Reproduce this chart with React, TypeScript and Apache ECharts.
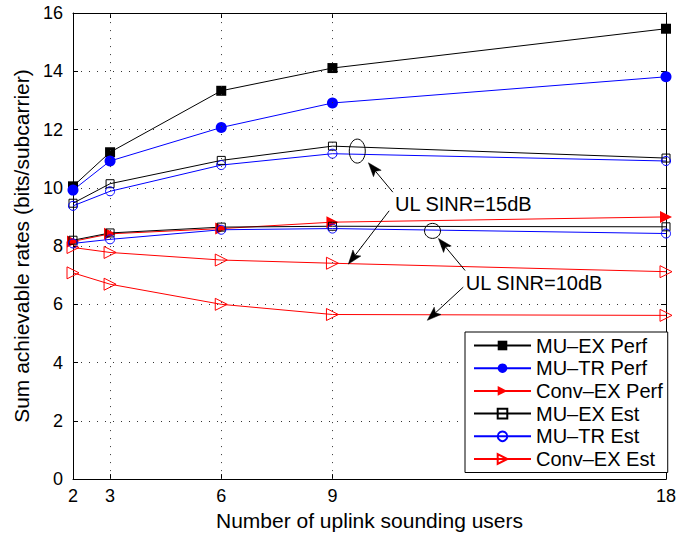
import React, { useEffect, useRef } from "react";
import * as echarts from "echarts";

// Number of uplink sounding users (x positions of every curve)
const users = [2, 3, 6, 9, 18];
const xTickValues = [2, 3, 6, 9, 18];
const xGridValues = [3, 6, 9];

// Sum achievable rates (bits/subcarrier)
const muExPerf = [10.05, 11.22, 13.33, 14.11, 15.46];
const muTrPerf = [9.92, 10.92, 12.07, 12.91, 13.81];
const convExPerf = [8.16, 8.42, 8.6, 8.82, 9.0];
const muExEst15 = [9.47, 10.14, 10.94, 11.43, 11.02];
const muTrEst15 = [9.38, 9.88, 10.78, 11.17, 10.92];
const convExEst15 = [7.95, 7.78, 7.52, 7.41, 7.12];
const muExEst10 = [8.2, 8.45, 8.65, 8.68, 8.66];
const muTrEst10 = [8.09, 8.23, 8.56, 8.6, 8.43];
const convExEst10 = [7.08, 6.69, 6.0, 5.65, 5.62];

const legendNames = [
  "MU–EX Perf",
  "MU–TR Perf",
  "Conv–EX Perf",
  "MU–EX Est",
  "MU–TR Est",
  "Conv–EX Est",
];

const FONT = "'Liberation Sans', Arial, Helvetica, sans-serif";
const BLACK = "#000000";
const BLUE = "#0000ff";
const RED = "#ff0000";

// Callouts, given in data coordinates
const ellipses = [
  { c: [9.67, 11.26], rx: 8, ry: 12 },
  { c: [11.7, 8.52], rx: 8, ry: 7.5 },
];
const callouts = [
  { text: "UL SINR=15dB", at: [10.69, 9.44] },
  { text: "UL SINR=10dB", at: [12.6, 6.72] },
];
const arrows = [
  { from: [10.63, 9.85], to: [9.97, 10.86] },
  { from: [10.53, 9.21], to: [9.43, 7.38] },
  { from: [12.58, 7.16], to: [11.86, 8.26] },
  { from: [12.53, 6.59], to: [11.56, 5.45] },
];

function lineSeries(
  name: string,
  values: number[],
  color: string,
  symbol: string,
  size: number,
  filled: boolean,
  rotate = 0
) {
  return {
    type: "line",
    name,
    data: users.map((u, i) => [u, values[i]]),
    symbol,
    symbolSize: size,
    symbolRotate: rotate,
    showAllSymbol: true,
    clip: false,
    lineStyle: { color, width: 1 },
    itemStyle: filled
      ? { color, borderWidth: 0 }
      : { color: "rgba(255,255,255,0)", borderColor: color, borderWidth: 1 },
    emphasis: { disabled: true },
    z: 3,
  };
}

const dotted = { type: [1, 7], color: "#333333", width: 1 };

export default function App() {
  const ref = useRef<HTMLDivElement>(null);

  useEffect(() => {
    if (!ref.current) return;
    const chart = echarts.init(ref.current, undefined, { renderer: "svg" });

    const axisLine = { show: true, onZero: false, lineStyle: { color: BLACK, width: 1 } };
    const tick = { show: true, inside: true, length: 5, lineStyle: { color: BLACK, width: 1 } };

    chart.setOption({
      animation: false,
      backgroundColor: "#ffffff",
      textStyle: { fontFamily: FONT },
      grid: { left: 73, right: 25, top: 13, bottom: 55, containLabel: false },
      xAxis: [
        {
          type: "value",
          min: 2,
          max: 18,
          position: "bottom",
          axisLine,
          axisTick: { ...tick, customValues: xTickValues },
          axisLabel: {
            customValues: xTickValues,
            fontSize: 18,
            color: BLACK,
            margin: 8,
            fontFamily: FONT,
          },
          splitLine: { show: false },
          name: "Number of uplink sounding users",
          nameLocation: "middle",
          nameGap: 29.5,
          nameTextStyle: { fontSize: 21, color: BLACK, fontFamily: FONT },
        },
        {
          type: "value",
          min: 2,
          max: 18,
          position: "top",
          axisLine,
          axisTick: { ...tick, customValues: xTickValues },
          axisLabel: { show: false },
          splitLine: { show: false },
        },
      ],
      yAxis: [
        {
          type: "value",
          min: 0,
          max: 16,
          interval: 2,
          position: "left",
          axisLine,
          axisTick: tick,
          axisLabel: { fontSize: 18, color: BLACK, margin: 10, fontFamily: FONT },
          splitLine: { show: true, lineStyle: dotted },
          name: "Sum achievable rates (bits/subcarrier)",
          nameLocation: "middle",
          nameGap: 32.5,
          nameTextStyle: { fontSize: 21, color: BLACK, fontFamily: FONT },
        },
        {
          type: "value",
          min: 0,
          max: 16,
          interval: 2,
          position: "right",
          axisLine,
          axisTick: tick,
          axisLabel: { show: false },
          splitLine: { show: false },
        },
      ],
      legend: {
        data: legendNames,
        orient: "vertical",
        left: 465,
        top: 332,
        itemWidth: 57,
        itemHeight: 12,
        itemGap: 2.7,
        padding: [3.5, 5, 3.5, 8],
        backgroundColor: "#ffffff",
        borderColor: BLACK,
        borderWidth: 1,
        borderRadius: 0,
        selectedMode: false,
        textStyle: { fontSize: 20, color: BLACK, fontFamily: FONT, lineHeight: 20 },
        z: 10,
      },
      series: [
        {
          type: "line",
          name: "grid",
          data: [],
          silent: true,
          z: 1,
          markLine: {
            silent: true,
            symbol: ["none", "none"],
            label: { show: false },
            lineStyle: dotted,
            emphasis: { disabled: true },
            data: xGridValues.map((v) => ({ xAxis: v })),
          },
        },
        lineSeries("MU–EX Perf", muExPerf, BLACK, "rect", 10, true),
        lineSeries("MU–TR Perf", muTrPerf, BLUE, "circle", 11, true),
        lineSeries("Conv–EX Perf", convExPerf, RED, "triangle", 12, true, -90),
        lineSeries("MU–EX Est", muExEst15, BLACK, "rect", 8, false),
        lineSeries("MU–TR Est", muTrEst15, BLUE, "circle", 9, false),
        lineSeries("Conv–EX Est", convExEst15, RED, "triangle", 12, false, -90),
        lineSeries("MU–EX Est", muExEst10, BLACK, "rect", 8, false),
        lineSeries("MU–TR Est", muTrEst10, BLUE, "circle", 9, false),
        lineSeries("Conv–EX Est", convExEst10, RED, "triangle", 12, false, -90),
      ],
    });

    // Callout ellipses, arrows and texts placed through the axes' scales
    const px = (p: number[]) =>
      chart.convertToPixel({ xAxisIndex: 0, yAxisIndex: 0 }, p) as number[];
    const elements: any[] = [];
    ellipses.forEach((e) => {
      const [cx, cy] = px(e.c);
      elements.push({
        type: "ellipse",
        shape: { cx, cy, rx: e.rx, ry: e.ry },
        style: { fill: "none", stroke: BLACK, lineWidth: 1 },
        z: 20,
      });
    });
    arrows.forEach((a) => {
      const [fx, fy] = px(a.from);
      const [tx, ty] = px(a.to);
      const len = Math.hypot(tx - fx, ty - fy);
      const dx = (tx - fx) / len;
      const dy = (ty - fy) / len;
      const nx = -dy;
      const ny = dx;
      const L = 14;
      const W = 5;
      const notch = 3;
      const bx = tx - dx * L;
      const by = ty - dy * L;
      const mx = tx - dx * (L - notch);
      const my = ty - dy * (L - notch);
      elements.push({
        type: "line",
        shape: { x1: fx, y1: fy, x2: mx, y2: my },
        style: { stroke: BLACK, lineWidth: 1 },
        z: 20,
      });
      elements.push({
        type: "polygon",
        shape: {
          points: [
            [tx, ty],
            [bx + nx * W, by + ny * W],
            [mx, my],
            [bx - nx * W, by - ny * W],
          ],
        },
        style: { fill: BLACK, stroke: BLACK, lineWidth: 0.5 },
        z: 20,
      });
    });
    callouts.forEach((c) => {
      const [x, y] = px(c.at);
      elements.push({
        type: "text",
        x,
        y,
        style: {
          text: c.text,
          fontSize: 20,
          fontFamily: FONT,
          fill: BLACK,
          align: "left",
          verticalAlign: "middle",
        },
        z: 20,
      });
    });
    chart.setOption({ graphic: elements });

    return () => chart.dispose();
  }, []);

  return (
    <div
      ref={ref}
      style={{ position: "fixed", left: 0, top: 0, width: 691, height: 536, background: "#fff" }}
    />
  );
}
